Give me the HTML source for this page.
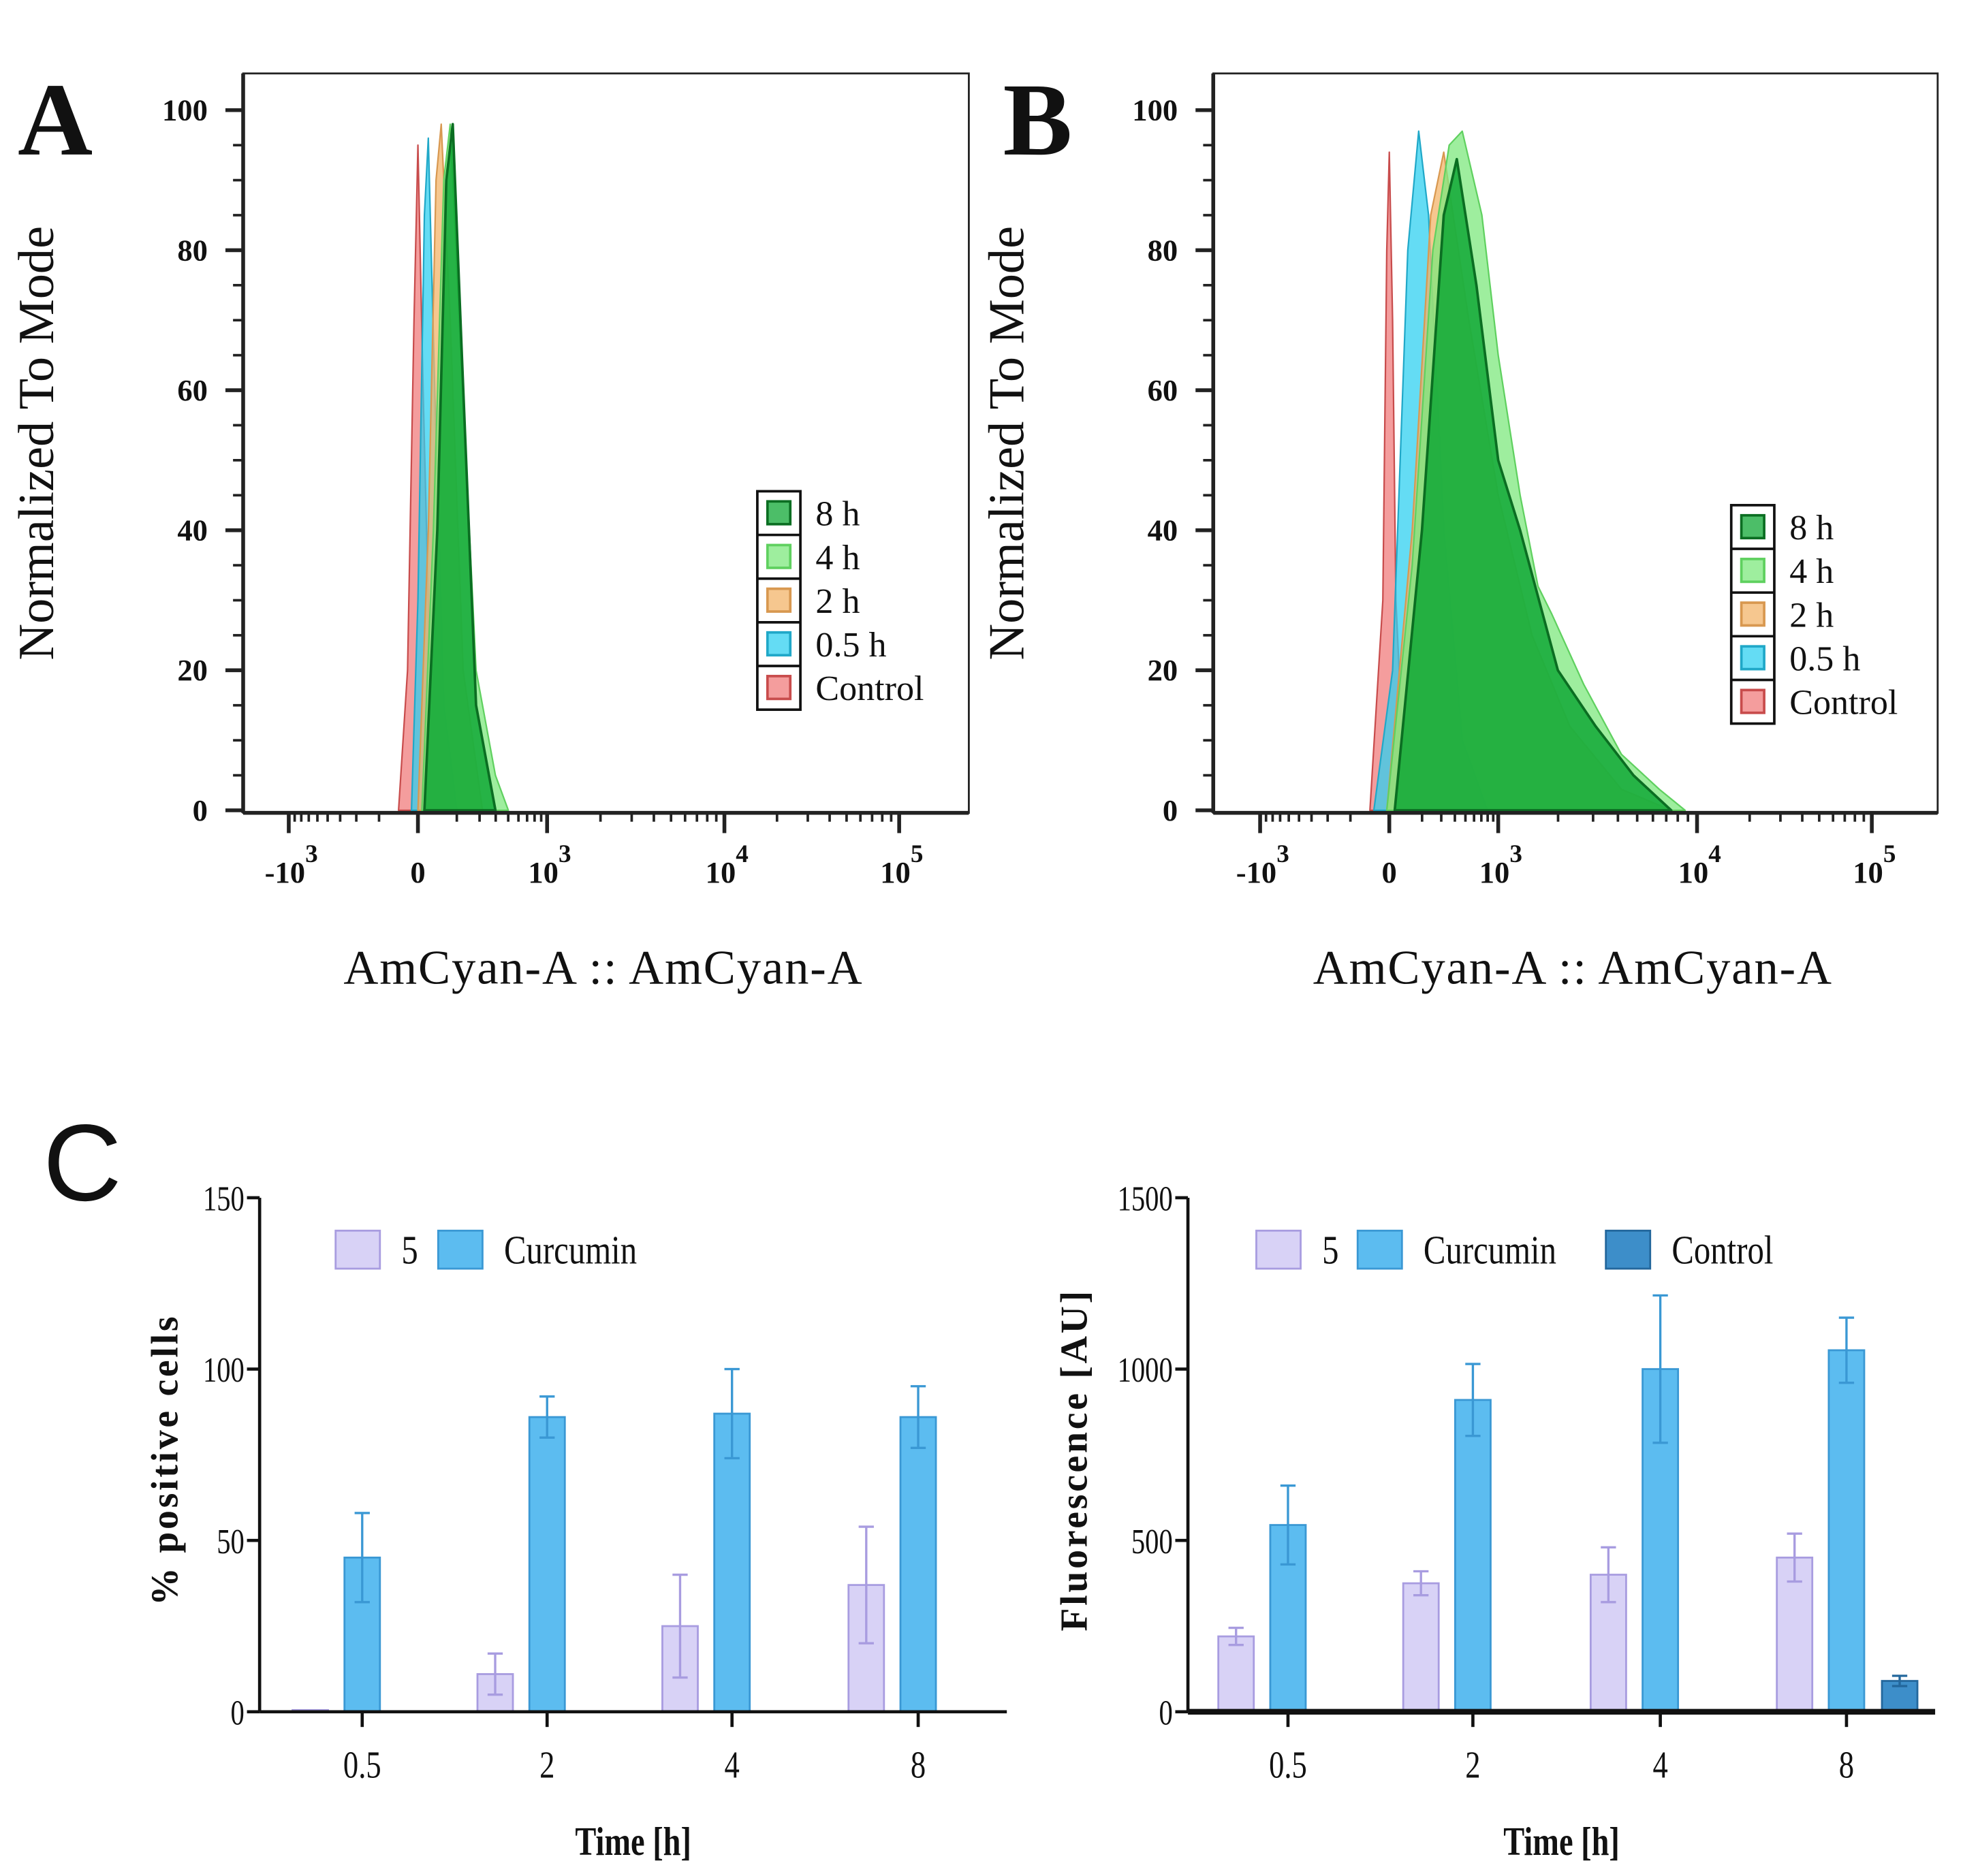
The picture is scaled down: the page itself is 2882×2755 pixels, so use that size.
<!DOCTYPE html>
<html><head><meta charset="utf-8"><style>
html,body{margin:0;padding:0;background:#fff;}
svg{display:block;}
text{font-family:"Liberation Serif",serif;fill:#111;}
</style></head><body>
<svg id="fig" xmlns="http://www.w3.org/2000/svg" width="2882" height="2755" viewBox="0 0 1550 1481.7" preserveAspectRatio="none">
<rect x="0" y="0" width="1550" height="1482" fill="#fff"/>
<g id="gA"></g>
<g id="gB"></g>
<g id="gC1"></g>
<g id="gC2"></g>
</svg>
<script>
// ---------- Histogram data (x in display units: -1=-10^3, 0=0, 1=10^3, 2=10^4, 3=10^5; y = % of mode) ----------
const histLabels = ["8 h","4 h","2 h","0.5 h","Control"];
const histFill = ["#10a836","#7ee87e","#f3b46a","#30d0f0","#f07c7c"];
const histStroke = ["#0b6e22","#5fd05f","#d89850","#20a8c8","#c84c4c"];
const histA_ctrl_x=[-0.15,-0.08,-0.03,0,0.04,0.1,0.18], histA_ctrl_y=[0,20,70,95,60,15,0];
const histA_05_x=[-0.05,0,0.05,0.08,0.13,0.2,0.3], histA_05_y=[0,30,85,96,60,15,0];
const histA_2_x=[0,0.08,0.14,0.18,0.25,0.35,0.5], histA_2_y=[0,40,90,98,70,20,0];
const histA_4_x=[0.03,0.12,0.2,0.25,0.32,0.45,0.6,0.7], histA_4_y=[0,40,90,98,70,20,5,0];
const histA_8_x=[0.05,0.15,0.22,0.27,0.34,0.45,0.6], histA_8_y=[0,40,90,98,65,15,0];
const histB_ctrl_x=[-0.15,-0.05,-0.02,0,0.03,0.06,0.15], histB_ctrl_y=[0,30,80,94,70,30,0];
const histB_05_x=[-0.12,0.03,0.17,0.27,0.36,0.5,0.67,0.9], histB_05_y=[0,20,80,97,85,40,10,0];
const histB_2_x=[-0.02,0.21,0.38,0.5,0.73,1,1.17,1.36,1.62,1.87], histB_2_y=[0,40,85,94,70,45,25,12,3,0];
const histB_4_x=[-0.02,0.21,0.4,0.55,0.67,0.85,1,1.11,1.2,1.27,1.43,1.62,1.81,1.94], histB_4_y=[0,35,80,95,97,85,65,45,32,28,18,8,3,0];
const histB_8_x=[0.05,0.3,0.5,0.62,0.8,1,1.11,1.3,1.49,1.68,1.87], histB_8_y=[0,40,85,93,75,50,40,20,12,5,0];
const yTicksHist=[0,20,40,60,80,100];

// ---------- Bar data ----------
const timeCats=["0.5","2","4","8"];
const pct5=[0.5,11,25,37], pct5Err=[0,6,15,17];
const pctCur=[45,86,87,86], pctCurErr=[13,6,13,9];
const pctTicks=[0,50,100,150];
const flu5=[220,375,400,450], flu5Err=[25,35,80,70];
const fluCur=[545,910,1000,1055], fluCurErr=[115,105,215,95];
const fluCtrl=[null,null,null,90], fluCtrlErr=[null,null,null,15];
const fluTicks=[0,500,1000,1500];

const NS="http://www.w3.org/2000/svg";
function mk(parent,tag,attrs,txt){const e=document.createElementNS(NS,tag);for(const k in attrs)e.setAttribute(k,attrs[k]);if(txt!==undefined)e.textContent=txt;parent.appendChild(e);return e;}

function histPanel(g,cfg,series){
  const {left,right,top,y0,y100,xs,letter,letterX,legX,legY}=cfg;
  const yS=v=>y0+(y100-y0)*v/100;
  const xS=v=>{ if(v<=xs[0][0]) return xs[0][1]+(v-xs[0][0])*(xs[1][1]-xs[0][1]);
    for(let i=0;i<xs.length-1;i++){ if(v<=xs[i+1][0]) return xs[i][1]+(v-xs[i][0])*(xs[i+1][1]-xs[i][1])/(xs[i+1][0]-xs[i][0]); }
    return xs[xs.length-1][1]; };
  let e=mk(g,"text",{x:letterX,y:122,"font-size":82,"font-weight":"bold"},letter);
  
  
  e=mk(g,"rect",{x:left,y:top,width:right-left,height:y0-top+2,fill:"none",stroke:"#222","stroke-width":1.5});
  
  
  // series (draw back to front: control first)
  for(let s=series.length-1;s>=0;s--){
    const [xsD,ysD]=series[s];
    let d="M"+xS(xsD[0])+","+yS(0);
    for(let i=0;i<xsD.length;i++) d+=" L"+xS(xsD[i]).toFixed(1)+","+yS(ysD[i]).toFixed(1);
    d+=" L"+xS(xsD[xsD.length-1])+","+yS(0)+"Z";
    e=mk(g,"path",{d:d,fill:histFill[s],"fill-opacity":s===0?0.85:0.75,stroke:histStroke[s],"stroke-width":s===0?2:1.2,"stroke-linejoin":"round"});
    
    
  }
  // y axis
  mk(g,"line",{x1:left,y1:top,x2:left,y2:y0+2,stroke:"#222","stroke-width":3});
  for(let v=0;v<=100;v+=5){ const big=v%20===0;
    mk(g,"line",{x1:left-(big?14:8),y1:yS(v),x2:left,y2:yS(v),stroke:"#222","stroke-width":big?3:2}); }
  yTicksHist.forEach(v=>{ e=mk(g,"text",{x:left-28,y:yS(v)+8,"font-size":24,"font-weight":"bold","text-anchor":"end"},v);
    
     });
  // x axis
  mk(g,"line",{x1:left,y1:y0+2,x2:right,y2:y0+2,stroke:"#222","stroke-width":3});
  const majors=[-1,0,1,2,3];
  for(let i=0;i<majors.length-1;i++){ for(let k=1;k<10;k++){ const v=majors[i]+Math.log10(k)/1; const vv = (i===0)? majors[i+1]-Math.log10(k): v;
      mk(g,"line",{x1:xS(vv),y1:y0+2,x2:xS(vv),y2:y0+9,stroke:"#222","stroke-width":2}); } }
  majors.forEach(v=>mk(g,"line",{x1:xS(v),y1:y0+2,x2:xS(v),y2:y0+18,stroke:"#222","stroke-width":3}));
  const lbls=[["-10","3"],["0",""],["10","3"],["10","4"],["10","5"]];
  majors.forEach((v,i)=>{ e=mk(g,"text",{x:xS(v)+(i===1?0:2),y:y0+57,"font-size":24,"font-weight":"bold","text-anchor":"middle"});
    
    
    mk(e,"tspan",{},lbls[i][0]); if(lbls[i][1]) mk(e,"tspan",{dy:-16,"font-size":20},lbls[i][1]); });
  e=mk(g,"text",{x:(left+right)/2-2,y:777,"font-size":38,"text-anchor":"middle","letter-spacing":1},"AmCyan-A :: AmCyan-A");
  
  
  e=mk(g,"text",{x:0,y:0,"font-size":40,"text-anchor":"middle",transform:`translate(${left-150},350) rotate(-90)`},"Normalized To Mode");
  
  
  // legend
  const rowH=34.5;
  e=mk(g,"rect",{x:legX,y:legY,width:34,height:rowH*5,fill:"#fff",stroke:"#111","stroke-width":2});
  
  
  histLabels.forEach((l,i)=>{ const yy=legY+i*rowH;
    if(i>0) mk(g,"line",{x1:legX,y1:yy,x2:legX+34,y2:yy,stroke:"#111","stroke-width":2});
    e=mk(g,"rect",{x:legX+8,y:yy+8,width:18,height:18,fill:histFill[i],"fill-opacity":0.75,stroke:histStroke[i],"stroke-width":2});
    
    
    e=mk(g,"text",{x:legX+46,y:yy+27,"font-size":28},l);
    
     });
}

histPanel(document.getElementById("gA"),{left:192,right:765,top:58,y0:640,y100:87,
  xs:[[-1,228],[0,330],[1,432],[2,572],[3,710]],letter:"A",letterX:14,legX:598,legY:388},
  [[histA_8_x,histA_8_y],[histA_4_x,histA_4_y],[histA_2_x,histA_2_y],[histA_05_x,histA_05_y],[histA_ctrl_x,histA_ctrl_y]]);
histPanel(document.getElementById("gB"),{left:958,right:1530,top:58,y0:640,y100:87,
  xs:[[-1,995],[0,1097],[1,1183],[2,1340],[3,1478]],letter:"B",letterX:792,legX:1367,legY:399},
  [[histB_8_x,histB_8_y],[histB_4_x,histB_4_y],[histB_2_x,histB_2_y],[histB_05_x,histB_05_y],[histB_ctrl_x,histB_ctrl_y]]);

// ---------- Bar charts ----------
const barStyle={s5:["#d8d2f6","#a89ce0"],cur:["#5cbcf0","#3a98d4"],ctrl:["#3d8ec9","#23679c"]};
function barChart(g,cfg){
  const {axX,right,y0,yTop,max,ticks,centers,series,ytitle,ytitleX,legend,xAxisW}=cfg;
  const yS=v=>y0-(y0-yTop)*v/max;
  let e;
  series.forEach(sr=>{ sr.vals.forEach((v,i)=>{ if(v===null) return;
      const cx=centers[i]+sr.off, w=28;
      e=mk(g,"rect",{x:cx-w/2,y:yS(v),width:w,height:y0-yS(v),fill:sr.col[0],stroke:sr.col[1],"stroke-width":1.5});
      
      
      const er=sr.err[i]; if(er){ const t=yS(v+er), b=yS(v-er);
        e=mk(g,"path",{d:`M${cx},${t} V${b} M${cx-6},${t} H${cx+6} M${cx-6},${b} H${cx+6}`,stroke:sr.col[1],"stroke-width":1.8,fill:"none"});
        
         }
  }); });
  mk(g,"line",{x1:axX,y1:yTop,x2:axX,y2:y0,stroke:"#111","stroke-width":2.5});
  ticks.forEach(t=>{ mk(g,"line",{x1:axX-10,y1:yS(t),x2:axX,y2:yS(t),stroke:"#111","stroke-width":2.5});
    e=mk(g,"text",{x:axX-12,y:yS(t)+10,"font-size":28,"text-anchor":"end",transform:`translate(${(axX-12)*0.22},0) scale(0.78,1)`},t);
    
     });
  mk(g,"line",{x1:axX,y1:y0,x2:right,y2:y0,stroke:"#111","stroke-width":xAxisW});
  centers.forEach((c,i)=>{ mk(g,"line",{x1:c,y1:y0,x2:c,y2:y0+12,stroke:"#111","stroke-width":2.5});
    e=mk(g,"text",{x:c,y:y0+52,"font-size":30,"text-anchor":"middle",transform:`translate(${c*0.2},0) scale(0.8,1)`},timeCats[i]);
    
     });
  const mid=(axX+right)/2;
  e=mk(g,"text",{x:mid,y:y0+113,"font-size":32,"font-weight":"bold","text-anchor":"middle",transform:`translate(${mid*0.22},0) scale(0.78,1)`},"Time [h]");
  
  
  e=mk(g,"text",{x:0,y:0,"font-size":30,"font-weight":"bold","text-anchor":"middle","letter-spacing":2,transform:`translate(${ytitleX},1153) rotate(-90)`},ytitle);
  
  
  legend.forEach(l=>{ e=mk(g,"rect",{x:l.x,y:972,width:35,height:30,fill:l.col[0],stroke:l.col[1],"stroke-width":1.5});
    
    
    e=mk(g,"text",{x:l.x+52,y:998,"font-size":32,transform:`translate(${(l.x+52)*0.18},0) scale(0.82,1)`},l.label);
    
     });
}
const gC1=document.getElementById("gC1");
let cl=mk(gC1,"text",{x:34,y:948,"font-size":86,style:"font-family:'Liberation Sans',sans-serif"},"C");


barChart(gC1,{axX:205,right:795,y0:1352,yTop:946,max:150,ticks:pctTicks,centers:[286,432,578,725],
  series:[{name:"5",vals:pct5,err:pct5Err,off:-41,col:barStyle.s5},{name:"curcumin",vals:pctCur,err:pctCurErr,off:0,col:barStyle.cur}],
  ytitle:"% positive cells",ytitleX:140,xAxisW:2.5,
  legend:[{x:265,col:barStyle.s5,label:"5"},{x:346,col:barStyle.cur,label:"Curcumin"}]});
barChart(document.getElementById("gC2"),{axX:938,right:1528,y0:1352,yTop:946,max:1500,ticks:fluTicks,centers:[1017,1163,1311,1458],
  series:[{name:"5",vals:flu5,err:flu5Err,off:-41,col:barStyle.s5},{name:"curcumin",vals:fluCur,err:fluCurErr,off:0,col:barStyle.cur},{name:"control",vals:fluCtrl,err:fluCtrlErr,off:42,col:barStyle.ctrl}],
  ytitle:"Fluorescence [AU]",ytitleX:858,xAxisW:4.5,
  legend:[{x:992,col:barStyle.s5,label:"5"},{x:1072,col:barStyle.cur,label:"Curcumin"},{x:1268,col:barStyle.ctrl,label:"Control"}]});
</script>
</body></html>
